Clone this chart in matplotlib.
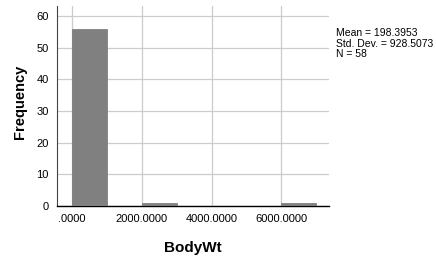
import numpy as np
import matplotlib
matplotlib.use("Agg")
import matplotlib.pyplot as plt

plt.rcParams['font.family'] = ['Liberation Sans', 'DejaVu Sans']

# histogram bins (BodyWt) and counts
bin_left = [0, 1000, 2000, 3000, 4000, 5000, 6000]
bin_width = 1000
counts = [56, 0, 1, 0, 0, 0, 1]
x_ticks = [0, 2000, 4000, 6000]
x_tick_labels = ['.0000', '2000.0000', '4000.0000', '6000.0000']
y_ticks = [0, 10, 20, 30, 40, 50, 60]
stats = ['Mean = 198.3953', 'Std. Dev. = 928.5073', 'N = 58']

fig = plt.figure(figsize=(4.36, 2.56), dpi=100)
ax = fig.add_axes([0.131, 0.195, 0.624, 0.782])

ax.bar(bin_left, counts, width=bin_width, align='edge', color='#808080',
       edgecolor='#747474', linewidth=0.5, zorder=3)

ax.set_xlim(-430, 7370)
ax.set_ylim(0, 63.2)
ax.set_xticks(x_ticks)
ax.set_xticklabels(x_tick_labels)
ax.set_yticks(y_ticks)
ax.tick_params(length=0, labelsize=8, pad=6)
ax.grid(True, color='#cccccc', linewidth=0.9, zorder=0)

for s in ['top', 'right']:
    ax.spines[s].set_visible(False)
ax.spines['bottom'].set_linewidth(1.0)
ax.spines['left'].set_linewidth(0.8)
ax.spines['left'].set_color('#444444')

ax.set_xlabel('BodyWt', fontsize=11, fontweight='bold', labelpad=12)
ax.set_ylabel('Frequency', fontsize=10.5, fontweight='bold', labelpad=6.5)
ax.yaxis.label.set_y(0.52)

fig.text(0.771, 0.89, '\n'.join(stats), fontsize=7.5, va='top', ha='left',
         linespacing=1.05)

fig.savefig('out.png', dpi=100)
